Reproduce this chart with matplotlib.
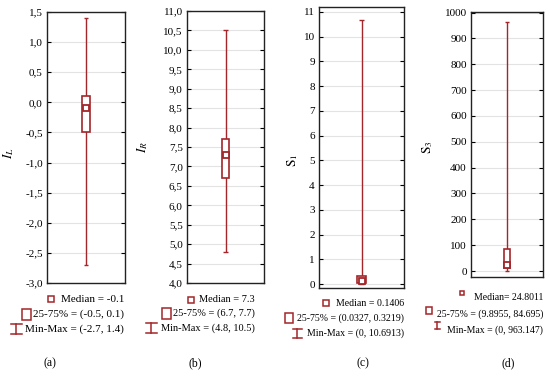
import matplotlib
matplotlib.use("Agg")
import matplotlib.pyplot as plt
from matplotlib.patches import Rectangle
from matplotlib.ticker import FuncFormatter, MultipleLocator

plt.rcParams['font.family'] = ['Liberation Serif', 'DejaVu Serif']
plt.rcParams['mathtext.fontset'] = 'stix'

# ---- data ----
panel_letters = ['(a)', '(b)', '(c)', '(d)']
ylabels = [r'$I_L$', r'$I_R$', r'$\mathrm{S}_1$', r'$\mathrm{S}_3$']
medians = [-0.1, 7.3, 0.1406, 24.8011]
q1 = [-0.5, 6.7, 0.0327, 9.8955]
q3 = [0.1, 7.7, 0.3219, 84.695]
mins = [-2.7, 4.8, 0.0, 0.0]
maxs = [1.4, 10.5, 10.6913, 963.147]
median_texts = ['Median = -0.1', 'Median = 7.3', 'Median = 0.1406', 'Median= 24.8011']
iqr_texts = ['25-75% = (-0.5, 0.1)', '25-75% = (6.7, 7.7)',
             '25-75% = (0.0327, 0.3219)', '25-75% = (9.8955, 84.695)']
range_texts = ['Min-Max = (-2.7, 1.4)', 'Min-Max = (4.8, 10.5)',
               'Min-Max = (0, 10.6913)', 'Min-Max = (0, 963.147)']
ylims = [(-3.0, 1.5), (4.0, 11.0), (-0.16, 11.2), (-23, 1002)]
ysteps = [0.5, 0.5, 1, 100]
comma_dec = [True, True, False, False]

# ---- layout (pixels) ----
W, H = 550, 380
ax_px = [(47, 12, 125, 283), (187, 11, 264, 283), (319, 7, 404, 288), (471, 12, 543, 277)]
C = '#a3262a'

fig = plt.figure(figsize=(5.5, 3.8), dpi=100)

for i in range(4):
    x0, y0, x1, y1 = ax_px[i]
    ax = fig.add_axes([x0 / W, 1 - y1 / H, (x1 - x0) / W, (y1 - y0) / H])
    ax.set_xlim(-1, 1)
    ax.set_ylim(*ylims[i])
    ax.yaxis.set_major_locator(MultipleLocator(ysteps[i]))
    if comma_dec[i]:
        ax.yaxis.set_major_formatter(FuncFormatter(lambda v, p: f'{v:.1f}'.replace('.', ',')))
    else:
        ax.yaxis.set_major_formatter(FuncFormatter(lambda v, p: f'{v:.0f}'))
    ax.set_xticks([])
    ax.tick_params(axis='y', direction='in', length=3, width=0.8, right=True,
                   labelsize=8, pad=3)
    ax.grid(axis='y', color='#e3e3e3', lw=0.8, zorder=0)
    for s in ax.spines.values():
        s.set_linewidth(1.0)
        s.set_color('#222222')
    hw = 0.095
    cw = 0.06
    ax.vlines(0, mins[i], maxs[i], color=C, lw=1.0, zorder=2)
    ax.hlines([mins[i], maxs[i]], -cw, cw, color=C, lw=1.0, zorder=2)
    ax.add_patch(Rectangle((-hw, q1[i]), 2 * hw, q3[i] - q1[i], facecolor='white',
                           edgecolor=C, lw=1.2, zorder=3))
    ax.plot([0], [medians[i]], marker='s', ms=4.8, mfc='white', mec=C, mew=1.3, zorder=4)

# overlay in pixel coordinates for legends & labels
ov = fig.add_axes([0, 0, 1, 1])
ov.set_xlim(0, W)
ov.set_ylim(H, 0)
ov.axis('off')

leg = [
    dict(xr=124, ys=(299, 314, 329), mx=51, bx=26.5, ix=16, fs=8, bs=(9, 11), isz=(11, 10), ms=4.5),
    dict(xr=255, ys=(300, 313.5, 328), mx=191, bx=166, ix=151, fs=7.5, bs=(9, 11), isz=(11, 10), ms=4.5),
    dict(xr=404, ys=(303, 318, 333), mx=326, bx=289, ix=297, fs=7.1, bs=(8, 10), isz=(9, 9), ms=4),
    dict(xr=543, ys=(298, 314, 330), mx=462, bx=429, ix=437, fs=7, bs=(6, 7), isz=(5, 7), ms=2.8),
]
for i, L in enumerate(leg):
    ym, yb, yi = L['ys']
    ov.text(L['xr'], ym, median_texts[i], ha='right', va='center', fontsize=L['fs'])
    ov.text(L['xr'], yb, iqr_texts[i], ha='right', va='center', fontsize=L['fs'])
    ov.text(L['xr'], yi, range_texts[i], ha='right', va='center', fontsize=L['fs'])
    dy = -5 if i == 3 else 0
    ov.plot([L['mx']], [ym + dy], marker='s', ms=L['ms'], mfc='white', mec=C, mew=1.1)
    bw, bh = L['bs']
    ov.add_patch(Rectangle((L['bx'] - bw / 2, yb + dy * 0.8 - bh / 2), bw, bh,
                           facecolor='white', edgecolor=C, lw=1.1))
    iw, ih = L['isz']
    yc = yi + dy
    ov.plot([L['ix'], L['ix']], [yc - ih / 2, yc + ih / 2], color=C, lw=1.1)
    ov.plot([L['ix'] - iw / 2, L['ix'] + iw / 2], [yc - ih / 2] * 2, color=C, lw=1.1)
    ov.plot([L['ix'] - iw / 2, L['ix'] + iw / 2], [yc + ih / 2] * 2, color=C, lw=1.1)

label_x = [50, 195, 363, 508]
ylab_pos = [(9, 153), (143, 147), (293, 160), (428, 147)]
for i in range(4):
    ov.text(label_x[i], 363, panel_letters[i], ha='center', va='center', fontsize=8.5)
    ov.text(ylab_pos[i][0], ylab_pos[i][1], ylabels[i], ha='center', va='center',
            rotation=90, fontsize=9.5)

fig.savefig('out.png', dpi=100)
